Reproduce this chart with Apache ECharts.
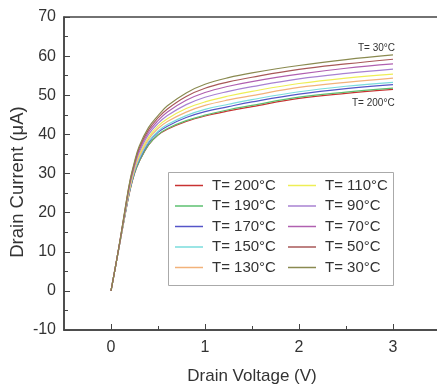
<!DOCTYPE html>
<html>
<head>
<meta charset="utf-8">
<script src="https://cdn.jsdelivr.net/npm/echarts@6/dist/echarts.min.js"></script>
<style>
  html, body { margin: 0; padding: 0; background: #fff; }
  #chart { width: 437px; height: 392px; }
</style>
</head>
<body>
<div id="chart"></div>
<script>
// drain voltage sample points (V)
const voltage = [0, 0.05, 0.1, 0.15, 0.2, 0.25, 0.3, 0.4, 0.5, 0.6, 0.8, 1.0, 1.25, 1.5, 2.0, 2.5, 3.0];

// drain current (uA) per temperature
const t30  = [0, 6.5, 13.5, 21.0, 28.0, 33.0, 37.0, 41.8, 44.8, 47.3, 50.6, 52.8, 54.5, 55.7, 57.6, 59.1, 60.3];
const t50  = [0, 6.5, 13.4, 20.8, 27.7, 32.6, 36.5, 41.2, 44.2, 46.5, 49.7, 51.8, 53.4, 54.6, 56.6, 58.0, 59.2];
const t70  = [0, 6.5, 13.4, 20.6, 27.4, 32.2, 36.0, 40.6, 43.5, 45.7, 48.7, 50.7, 52.3, 53.5, 55.4, 56.9, 58.0];
const t90  = [0, 6.5, 13.3, 20.4, 27.0, 31.8, 35.4, 40.0, 42.8, 44.8, 47.6, 49.5, 51.0, 52.2, 54.2, 55.6, 56.7];
const t110 = [0, 6.5, 13.2, 20.2, 26.6, 31.4, 34.8, 39.3, 42.1, 44.0, 46.6, 48.3, 49.8, 51.0, 53.0, 54.4, 55.4];
const t130 = [0, 6.5, 13.2, 20.0, 26.3, 31.0, 34.3, 38.8, 41.5, 43.3, 45.7, 47.4, 48.8, 49.9, 52.0, 53.3, 54.4];
const t150 = [0, 6.5, 13.1, 19.8, 26.0, 30.6, 33.8, 38.2, 40.8, 42.5, 44.8, 46.4, 47.7, 48.9, 50.9, 52.3, 53.3];
const t170 = [0, 6.5, 13.1, 19.7, 25.8, 30.4, 33.5, 37.9, 40.5, 42.1, 44.3, 45.8, 47.1, 48.3, 50.3, 51.7, 52.7];
const t190 = [0, 6.5, 13.0, 19.5, 25.6, 30.1, 33.1, 37.4, 39.9, 41.5, 43.5, 44.9, 46.3, 47.4, 49.5, 50.8, 51.8];
const t200 = [0, 6.5, 13.0, 19.5, 25.5, 30.0, 33.0, 37.3, 39.8, 41.3, 43.3, 44.7, 46.0, 47.1, 49.2, 50.5, 51.5];

const legendLeft = ['T= 200°C', 'T= 190°C', 'T= 170°C', 'T= 150°C', 'T= 130°C'];
const legendRight = ['T= 110°C', 'T= 90°C', 'T= 70°C', 'T= 50°C', 'T= 30°C'];

const xTicks = [0, 1, 2, 3];
const xMinorTicks = [0.5, 1.5, 2.5];

const curves = [
  { name: 'T= 200°C', data: t200, color: '#c83232' },
  { name: 'T= 190°C', data: t190, color: '#5cc070' },
  { name: 'T= 170°C', data: t170, color: '#5555c8' },
  { name: 'T= 150°C', data: t150, color: '#7adcdc' },
  { name: 'T= 130°C', data: t130, color: '#f2b27a' },
  { name: 'T= 110°C', data: t110, color: '#eeee55' },
  { name: 'T= 90°C', data: t90, color: '#a882d2' },
  { name: 'T= 70°C', data: t70, color: '#b060b0' },
  { name: 'T= 50°C', data: t50, color: '#a85858' },
  { name: 'T= 30°C', data: t30, color: '#8a8a50' },
];

const font = 'Liberation Sans, Arial, sans-serif';
const axisColor = '#444';

const chart = echarts.init(document.getElementById('chart'));

const legendCommon = {
  orient: 'vertical',
  top: 178,
  icon: 'rect',
  itemWidth: 28,
  itemHeight: 1.5,
  itemGap: 5.5,
  padding: 0,
  textStyle: { fontFamily: font, fontSize: 15, lineHeight: 15, color: '#333', padding: [0, 0, 0, 4] },
};

chart.setOption({
  animation: false,
  grid: {
    left: 64, top: 17, width: 376, height: 313,
    show: true, borderColor: axisColor, borderWidth: 1.5,
    outerBoundsMode: 'none',
  },
  legend: [
    Object.assign({ left: 175, data: legendLeft }, legendCommon),
    Object.assign({ left: 288, data: legendRight }, legendCommon),
  ],
  graphic: [
    {
      type: 'rect', left: 168, top: 172, z: 1,
      shape: { width: 225, height: 113 },
      style: { fill: '#fff', stroke: '#aaa', lineWidth: 1 },
    },
    {
      type: 'text', left: 358, top: 43, z: 10,
      style: { text: 'T= 30°C', fontFamily: font, fontSize: 10, fill: '#333' },
    },
    {
      type: 'text', left: 352, top: 98, z: 10,
      style: { text: 'T= 200°C', fontFamily: font, fontSize: 10, fill: '#333' },
    },
    {
      type: 'text', x: 18, y: 182, rotation: Math.PI / 2, z: 10,
      style: {
        text: 'Drain Current (μA)', fontFamily: font, fontSize: 18.5, fill: '#333',
        align: 'center', verticalAlign: 'middle',
      },
    },
  ],
  xAxis: [
    {
      type: 'value', min: -0.5, max: 3.5,
      name: 'Drain Voltage (V)', nameLocation: 'middle', nameGap: 38,
      nameTextStyle: { fontFamily: font, fontSize: 17, color: '#333' },
      axisLine: { onZero: false, lineStyle: { color: axisColor, width: 1.5 } },
      axisTick: { inside: true, length: 6, customValues: xTicks, lineStyle: { color: axisColor } },
      axisLabel: { customValues: xTicks, margin: 10, fontFamily: font, fontSize: 16, color: '#333' },
      splitLine: { show: false },
    },
    {
      type: 'value', min: -0.5, max: 3.5, position: 'bottom',
      axisLine: { show: false, onZero: false },
      axisTick: { inside: true, length: 4, customValues: xMinorTicks, lineStyle: { color: axisColor } },
      axisLabel: { show: false },
      splitLine: { show: false },
    },
  ],
  yAxis: {
    type: 'value', min: -10, max: 70, interval: 10,
    axisLine: { show: true, onZero: false, lineStyle: { color: axisColor, width: 1.5 } },
    axisTick: { inside: true, length: 6, lineStyle: { color: axisColor } },
    minorTick: { show: true, splitNumber: 2, length: 4, lineStyle: { color: axisColor } },
    axisLabel: { margin: 8, fontFamily: font, fontSize: 16, color: '#333' },
    splitLine: { show: false },
  },
  series: curves.map(c => ({
    name: c.name,
    type: 'line',
    xAxisIndex: 0,
    symbol: 'none',
    smooth: 0.4,
    z: 3,
    color: c.color,
    lineStyle: { width: 1.2, color: c.color },
    data: voltage.map((v, i) => [v, c.data[i]]),
  })),
});
</script>
</body>
</html>
